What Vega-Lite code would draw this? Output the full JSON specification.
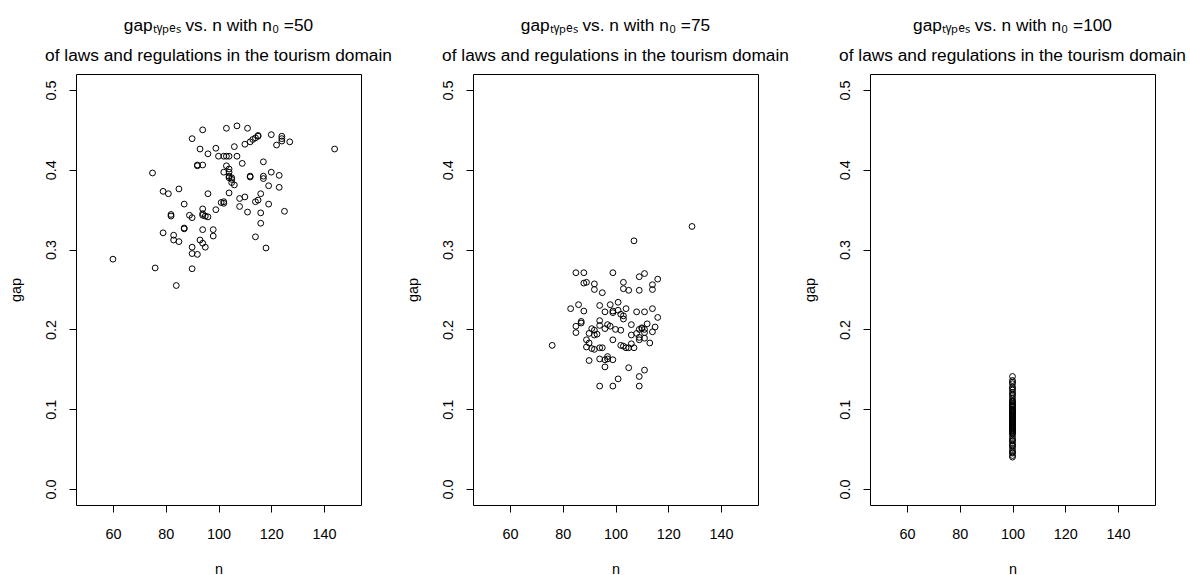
{
  "$schema": "https://vega.github.io/schema/vega-lite/v6.json",
  "padding": {"left": 7, "top": 16, "right": 0, "bottom": 0},
  "background": "white",
  "bounds": "flush",
  "spacing": 112,
  "config": {
    "view": {"stroke": "black", "strokeWidth": 1},
    "font": "Liberation Sans",
    "title": {"font": "Liberation Sans", "fontSize": 17.3, "fontWeight": "normal", "color": "black", "lineHeight": 30, "anchor": "middle", "offset": 10},
    "axis": {"grid": false, "domain": false, "ticks": true, "tickColor": "black", "tickSize": 7, "tickWidth": 1,
      "labelFont": "Liberation Sans", "labelFontSize": 14.4, "labelColor": "black",
      "titleFont": "Liberation Sans", "titleFontSize": 14.4, "titleFontWeight": "normal", "titleColor": "black"},
    "axisX": {"labelBaseline": "alphabetic", "labelPadding": 26.5, "titleY": 68, "titleBaseline": "alphabetic", "labelFlush": false},
    "axisY": {"labelAngle": 270, "labelAlign": "center", "labelBaseline": "alphabetic", "labelPadding": 13.6, "titleAngle": 270, "titleX": -56, "titleY": 215.5, "titleAlign": "center", "titleBaseline": "alphabetic", "labelFlush": false},
    "point": {"shape": "circle", "filled": false, "color": "black", "size": 34, "strokeWidth": 1, "opacity": 1}
  },
  "datasets": {
    "p1": [
      {"n": 60, "gap": 0.288}, {"n": 75, "gap": 0.396}, {"n": 76, "gap": 0.277}, {"n": 79, "gap": 0.373},
      {"n": 81, "gap": 0.370}, {"n": 85, "gap": 0.376}, {"n": 79, "gap": 0.321}, {"n": 83, "gap": 0.318},
      {"n": 83, "gap": 0.312}, {"n": 85, "gap": 0.310}, {"n": 84, "gap": 0.255}, {"n": 82, "gap": 0.344},
      {"n": 82, "gap": 0.342}, {"n": 87, "gap": 0.357}, {"n": 87, "gap": 0.327}, {"n": 87, "gap": 0.326},
      {"n": 89, "gap": 0.343}, {"n": 90, "gap": 0.340}, {"n": 90, "gap": 0.439}, {"n": 90, "gap": 0.303},
      {"n": 90, "gap": 0.295}, {"n": 92, "gap": 0.294}, {"n": 90, "gap": 0.276}, {"n": 94, "gap": 0.450},
      {"n": 93, "gap": 0.426}, {"n": 96, "gap": 0.420}, {"n": 92, "gap": 0.406}, {"n": 92, "gap": 0.405},
      {"n": 94, "gap": 0.406}, {"n": 96, "gap": 0.370}, {"n": 94, "gap": 0.351}, {"n": 94, "gap": 0.345},
      {"n": 94, "gap": 0.343}, {"n": 95, "gap": 0.342}, {"n": 96, "gap": 0.341}, {"n": 94, "gap": 0.325},
      {"n": 98, "gap": 0.325}, {"n": 98, "gap": 0.317}, {"n": 93, "gap": 0.312}, {"n": 94, "gap": 0.308},
      {"n": 95, "gap": 0.303}, {"n": 99, "gap": 0.427}, {"n": 99, "gap": 0.350}, {"n": 101, "gap": 0.359},
      {"n": 102, "gap": 0.360}, {"n": 103, "gap": 0.452}, {"n": 107, "gap": 0.455}, {"n": 111, "gap": 0.452},
      {"n": 106, "gap": 0.429}, {"n": 100, "gap": 0.417}, {"n": 102, "gap": 0.417}, {"n": 103, "gap": 0.417},
      {"n": 104, "gap": 0.417}, {"n": 107, "gap": 0.417}, {"n": 109, "gap": 0.408}, {"n": 103, "gap": 0.405},
      {"n": 102, "gap": 0.397}, {"n": 104, "gap": 0.401}, {"n": 104, "gap": 0.397}, {"n": 104, "gap": 0.392},
      {"n": 104, "gap": 0.390}, {"n": 105, "gap": 0.390}, {"n": 105, "gap": 0.388}, {"n": 105, "gap": 0.384},
      {"n": 106, "gap": 0.381}, {"n": 104, "gap": 0.371}, {"n": 108, "gap": 0.364}, {"n": 110, "gap": 0.366},
      {"n": 108, "gap": 0.354}, {"n": 111, "gap": 0.347}, {"n": 110, "gap": 0.432}, {"n": 112, "gap": 0.435},
      {"n": 113, "gap": 0.438}, {"n": 114, "gap": 0.440}, {"n": 115, "gap": 0.442}, {"n": 115, "gap": 0.443},
      {"n": 112, "gap": 0.392}, {"n": 112, "gap": 0.391}, {"n": 117, "gap": 0.410}, {"n": 117, "gap": 0.392},
      {"n": 117, "gap": 0.389}, {"n": 119, "gap": 0.380}, {"n": 120, "gap": 0.397}, {"n": 123, "gap": 0.393},
      {"n": 123, "gap": 0.378}, {"n": 116, "gap": 0.370}, {"n": 115, "gap": 0.362}, {"n": 114, "gap": 0.360},
      {"n": 119, "gap": 0.357}, {"n": 116, "gap": 0.346}, {"n": 125, "gap": 0.348}, {"n": 116, "gap": 0.333},
      {"n": 114, "gap": 0.316}, {"n": 118, "gap": 0.302}, {"n": 120, "gap": 0.444}, {"n": 122, "gap": 0.431},
      {"n": 124, "gap": 0.442}, {"n": 124, "gap": 0.439}, {"n": 124, "gap": 0.436}, {"n": 127, "gap": 0.435},
      {"n": 144, "gap": 0.426}, {"n": 102, "gap": 0.358}
    ],
    "p2": [
      {"n": 76, "gap": 0.180}, {"n": 129, "gap": 0.329}, {"n": 107, "gap": 0.311}, {"n": 85, "gap": 0.271},
      {"n": 88, "gap": 0.271}, {"n": 99, "gap": 0.271}, {"n": 111, "gap": 0.270}, {"n": 109, "gap": 0.266},
      {"n": 116, "gap": 0.263}, {"n": 88, "gap": 0.258}, {"n": 89, "gap": 0.259}, {"n": 92, "gap": 0.257},
      {"n": 92, "gap": 0.250}, {"n": 95, "gap": 0.246}, {"n": 103, "gap": 0.259}, {"n": 103, "gap": 0.251},
      {"n": 105, "gap": 0.249}, {"n": 109, "gap": 0.249}, {"n": 114, "gap": 0.256}, {"n": 114, "gap": 0.250},
      {"n": 83, "gap": 0.226}, {"n": 86, "gap": 0.231}, {"n": 88, "gap": 0.223}, {"n": 94, "gap": 0.230},
      {"n": 98, "gap": 0.231}, {"n": 101, "gap": 0.234}, {"n": 96, "gap": 0.222}, {"n": 99, "gap": 0.223},
      {"n": 99, "gap": 0.221}, {"n": 101, "gap": 0.224}, {"n": 102, "gap": 0.219}, {"n": 103, "gap": 0.217},
      {"n": 104, "gap": 0.226}, {"n": 103, "gap": 0.213}, {"n": 108, "gap": 0.222}, {"n": 111, "gap": 0.222},
      {"n": 114, "gap": 0.226}, {"n": 116, "gap": 0.215}, {"n": 85, "gap": 0.204}, {"n": 85, "gap": 0.196},
      {"n": 87, "gap": 0.210}, {"n": 87, "gap": 0.208}, {"n": 94, "gap": 0.211}, {"n": 94, "gap": 0.205},
      {"n": 96, "gap": 0.201}, {"n": 97, "gap": 0.206}, {"n": 98, "gap": 0.204}, {"n": 91, "gap": 0.201},
      {"n": 92, "gap": 0.199}, {"n": 90, "gap": 0.195}, {"n": 93, "gap": 0.194}, {"n": 92, "gap": 0.193},
      {"n": 100, "gap": 0.200}, {"n": 102, "gap": 0.199}, {"n": 106, "gap": 0.206}, {"n": 109, "gap": 0.200},
      {"n": 110, "gap": 0.201}, {"n": 110, "gap": 0.202}, {"n": 111, "gap": 0.200}, {"n": 112, "gap": 0.207},
      {"n": 115, "gap": 0.203}, {"n": 106, "gap": 0.193}, {"n": 108, "gap": 0.195}, {"n": 111, "gap": 0.196},
      {"n": 114, "gap": 0.197}, {"n": 109, "gap": 0.187}, {"n": 109, "gap": 0.190}, {"n": 111, "gap": 0.189},
      {"n": 113, "gap": 0.183}, {"n": 89, "gap": 0.187}, {"n": 90, "gap": 0.183}, {"n": 89, "gap": 0.178},
      {"n": 99, "gap": 0.187}, {"n": 91, "gap": 0.176}, {"n": 92, "gap": 0.175}, {"n": 94, "gap": 0.177},
      {"n": 95, "gap": 0.177}, {"n": 102, "gap": 0.180}, {"n": 103, "gap": 0.179}, {"n": 104, "gap": 0.177},
      {"n": 105, "gap": 0.177}, {"n": 107, "gap": 0.177}, {"n": 90, "gap": 0.161}, {"n": 94, "gap": 0.163},
      {"n": 96, "gap": 0.162}, {"n": 97, "gap": 0.166}, {"n": 97, "gap": 0.163}, {"n": 99, "gap": 0.162},
      {"n": 96, "gap": 0.153}, {"n": 105, "gap": 0.152}, {"n": 111, "gap": 0.149}, {"n": 109, "gap": 0.141},
      {"n": 101, "gap": 0.138}, {"n": 94, "gap": 0.129}, {"n": 99, "gap": 0.129}, {"n": 109, "gap": 0.129},
      {"n": 106, "gap": 0.182}
    ],
    "p3": [
      {"n": 100, "gap": 0.141}, {"n": 100, "gap": 0.136}, {"n": 100, "gap": 0.132}, {"n": 100, "gap": 0.128},
      {"n": 100, "gap": 0.124}, {"n": 100, "gap": 0.121}, {"n": 100, "gap": 0.117}, {"n": 100, "gap": 0.114},
      {"n": 100, "gap": 0.111}, {"n": 100, "gap": 0.109}, {"n": 100, "gap": 0.107}, {"n": 100, "gap": 0.105},
      {"n": 100, "gap": 0.104}, {"n": 100, "gap": 0.102}, {"n": 100, "gap": 0.100}, {"n": 100, "gap": 0.098},
      {"n": 100, "gap": 0.097}, {"n": 100, "gap": 0.095}, {"n": 100, "gap": 0.093}, {"n": 100, "gap": 0.091},
      {"n": 100, "gap": 0.089}, {"n": 100, "gap": 0.087}, {"n": 100, "gap": 0.085}, {"n": 100, "gap": 0.083},
      {"n": 100, "gap": 0.081}, {"n": 100, "gap": 0.079}, {"n": 100, "gap": 0.077}, {"n": 100, "gap": 0.075},
      {"n": 100, "gap": 0.073}, {"n": 100, "gap": 0.071}, {"n": 100, "gap": 0.069}, {"n": 100, "gap": 0.066},
      {"n": 100, "gap": 0.063}, {"n": 100, "gap": 0.060}, {"n": 100, "gap": 0.057}, {"n": 100, "gap": 0.054},
      {"n": 100, "gap": 0.051}, {"n": 100, "gap": 0.048}, {"n": 100, "gap": 0.045}, {"n": 100, "gap": 0.042},
      {"n": 100, "gap": 0.040}, {"n": 100, "gap": 0.110}, {"n": 100, "gap": 0.106}, {"n": 100, "gap": 0.103},
      {"n": 100, "gap": 0.099}, {"n": 100, "gap": 0.096}, {"n": 100, "gap": 0.094}, {"n": 100, "gap": 0.092},
      {"n": 100, "gap": 0.090}, {"n": 100, "gap": 0.088}, {"n": 100, "gap": 0.086}, {"n": 100, "gap": 0.084},
      {"n": 100, "gap": 0.082}, {"n": 100, "gap": 0.080}, {"n": 100, "gap": 0.078}, {"n": 100, "gap": 0.076},
      {"n": 100, "gap": 0.074}, {"n": 100, "gap": 0.072}, {"n": 100, "gap": 0.070}, {"n": 100, "gap": 0.134},
      {"n": 100, "gap": 0.126}, {"n": 100, "gap": 0.119}, {"n": 100, "gap": 0.061}, {"n": 100, "gap": 0.055},
      {"n": 100, "gap": 0.046}
    ]
  },
  "hconcat": [
    {
      "width": 285, "height": 431,
      "title": {"text": ["gapₜᵧₚₑₛ   vs. n with n₀ =50", "of laws and regulations in the tourism domain"]},
      "data": {"name": "p1"},
      "mark": {"type": "point"},
      "encoding": {
        "x": {"field": "n", "type": "quantitative", "title": "n", "scale": {"domain": [46, 154], "nice": false, "zero": false}, "axis": {"values": [60, 80, 100, 120, 140]}},
        "y": {"field": "gap", "type": "quantitative", "title": "gap", "scale": {"domain": [-0.02, 0.52], "nice": false, "zero": false}, "axis": {"values": [0, 0.1, 0.2, 0.3, 0.4, 0.5], "format": ".1f"}}
      }
    },
    {
      "width": 285, "height": 431,
      "title": {"text": ["gapₜᵧₚₑₛ   vs. n with n₀ =75", "of laws and regulations in the tourism domain"]},
      "data": {"name": "p2"},
      "mark": {"type": "point"},
      "encoding": {
        "x": {"field": "n", "type": "quantitative", "title": "n", "scale": {"domain": [46, 154], "nice": false, "zero": false}, "axis": {"values": [60, 80, 100, 120, 140]}},
        "y": {"field": "gap", "type": "quantitative", "title": "gap", "scale": {"domain": [-0.02, 0.52], "nice": false, "zero": false}, "axis": {"values": [0, 0.1, 0.2, 0.3, 0.4, 0.5], "format": ".1f"}}
      }
    },
    {
      "width": 285, "height": 431,
      "title": {"text": ["gapₜᵧₚₑₛ   vs. n with n₀ =100", "of laws and regulations in the tourism domain"]},
      "data": {"name": "p3"},
      "mark": {"type": "point"},
      "encoding": {
        "x": {"field": "n", "type": "quantitative", "title": "n", "scale": {"domain": [46, 154], "nice": false, "zero": false}, "axis": {"values": [60, 80, 100, 120, 140]}},
        "y": {"field": "gap", "type": "quantitative", "title": "gap", "scale": {"domain": [-0.02, 0.52], "nice": false, "zero": false}, "axis": {"values": [0, 0.1, 0.2, 0.3, 0.4, 0.5], "format": ".1f"}}
      }
    }
  ]
}
